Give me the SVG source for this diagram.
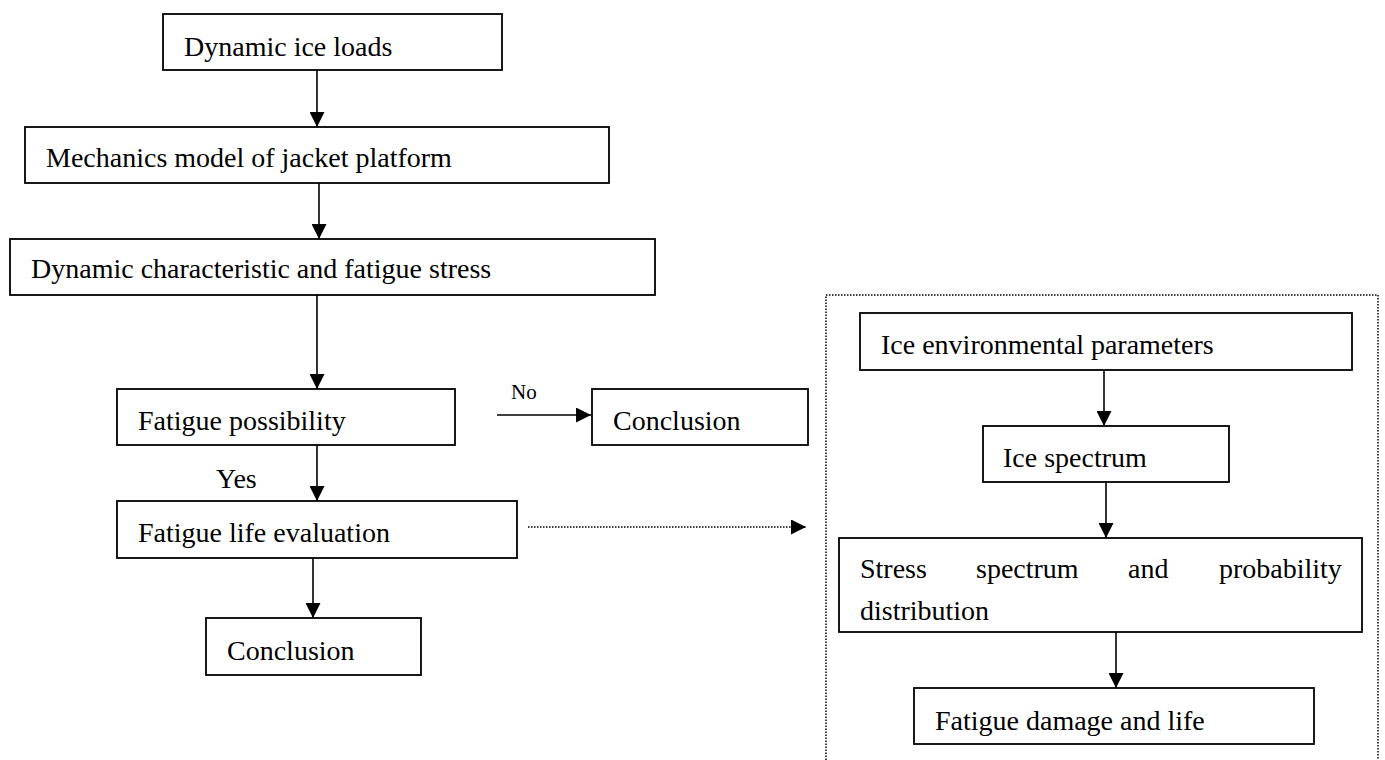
<svg xmlns="http://www.w3.org/2000/svg" width="1385" height="760" viewBox="0 0 1385 760">
<style>
.box{fill:#fff;stroke:#000;stroke-width:1.8}
.t{font-family:"Liberation Serif","Times New Roman",serif;font-size:28px;fill:#000}
.s{font-family:"Liberation Serif","Times New Roman",serif;font-size:21px;fill:#000}
.c{stroke:#000;stroke-width:1.6;fill:none}
.d{stroke:#000;stroke-width:1.5;fill:none;stroke-dasharray:1.5 1.5}
</style>
<defs>
<marker id="ah" markerUnits="userSpaceOnUse" markerWidth="15" markerHeight="15" viewBox="0 0 15 15" refX="15" refY="7.5" orient="auto">
<path d="M0,0 L15,7.5 L0,15 Z" fill="#000"/>
</marker>
</defs>
<rect x="0" y="0" width="1385" height="760" fill="#fff"/>
<g id="frame">
<path class="d" d="M826,760 L826,295 L1378,295 L1378,760"/>
</g>
<g id="connectors">
<line class="c" x1="317" y1="70" x2="317" y2="127" marker-end="url(#ah)"/>
<line class="c" x1="319" y1="183" x2="319" y2="239" marker-end="url(#ah)"/>
<line class="c" x1="317" y1="295" x2="317" y2="389" marker-end="url(#ah)"/>
<line class="c" x1="317" y1="445" x2="317" y2="501" marker-end="url(#ah)"/>
<line class="c" x1="313" y1="558" x2="313" y2="618" marker-end="url(#ah)"/>
<line class="c" x1="497" y1="415" x2="591" y2="415" marker-end="url(#ah)"/>
<line class="d" x1="528" y1="527" x2="806" y2="527" marker-end="url(#ah)"/>
<line class="c" x1="1104" y1="370" x2="1104" y2="426" marker-end="url(#ah)"/>
<line class="c" x1="1106" y1="482" x2="1106" y2="538" marker-end="url(#ah)"/>
<line class="c" x1="1116" y1="632" x2="1116" y2="688" marker-end="url(#ah)"/>
<text class="s" x="511" y="399">No</text>
<text class="t" x="216" y="488">Yes</text>
</g>
<g id="n1"><rect class="box" x="163" y="14" width="339" height="56"/><text class="t" x="184" y="56">Dynamic ice loads</text></g>
<g id="n2"><rect class="box" x="25" y="127" width="584" height="56"/><text class="t" x="46" y="167">Mechanics model of jacket platform</text></g>
<g id="n3"><rect class="box" x="10" y="239" width="645" height="56"/><text class="t" x="31" y="278">Dynamic characteristic and fatigue stress</text></g>
<g id="n4"><rect class="box" x="117" y="389" width="338" height="56"/><text class="t" x="138" y="430">Fatigue possibility</text></g>
<g id="n5"><rect class="box" x="592" y="389" width="216" height="56"/><text class="t" x="613" y="430">Conclusion</text></g>
<g id="n6"><rect class="box" x="117" y="501" width="400" height="57"/><text class="t" x="138" y="542">Fatigue life evaluation</text></g>
<g id="n7"><rect class="box" x="206" y="618" width="215" height="57"/><text class="t" x="227" y="660">Conclusion</text></g>
<g id="n8"><rect class="box" x="860" y="313" width="492" height="57"/><text class="t" x="881" y="354">Ice environmental parameters</text></g>
<g id="n9"><rect class="box" x="983" y="426" width="246" height="56"/><text class="t" x="1003" y="467">Ice spectrum</text></g>
<g id="n10"><rect class="box" x="839" y="538" width="523" height="94"/><text class="t" y="578"><tspan x="860">Stress</tspan><tspan x="976">spectrum</tspan><tspan x="1128">and</tspan><tspan x="1219">probability</tspan></text><text class="t" x="860" y="620">distribution</text></g>
<g id="n11"><rect class="box" x="914" y="688" width="400" height="56"/><text class="t" x="935" y="730">Fatigue damage and life</text></g>
</svg>
